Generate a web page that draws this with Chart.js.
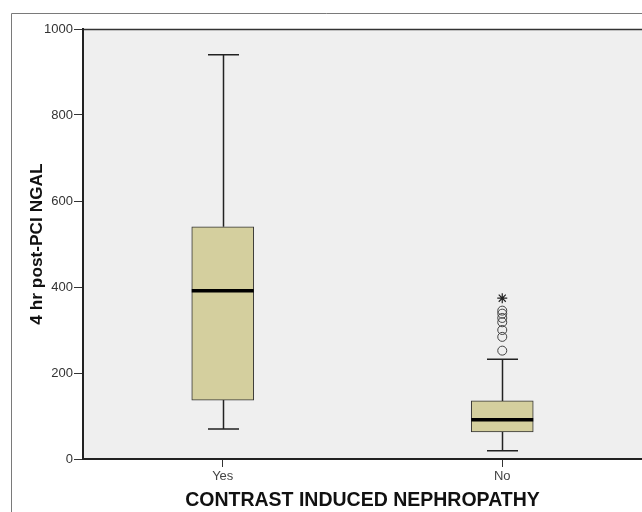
<!DOCTYPE html>
<html lang="en">
<head>
  <meta charset="UTF-8">
  <title>4 hr post-PCI NGAL</title>
  <script src="https://cdn.jsdelivr.net/npm/chart.js"></script>
  <style>
    body { margin: 0; background: #fff; }
    canvas { display: block; }
  </style>
</head>
<body>
  <canvas id="boxChart" width="642" height="512"></canvas>

  <script>
    // box plot values
    const categories = ["Yes", "No"];
    const whiskerLow = [70, 19];
    const quartile1 = [137, 63];
    const medians = [391, 91];
    const quartile3 = [540, 135];
    const whiskerHigh = [940, 232];
    // outliers, all in the "No" group
    const outlierCircles = [252, 284, 300, 318, 328, 338, 345];
    const outlierStars = [374];
    const yTicks = [0, 200, 400, 600, 800, 1000];

    const FONT = "'Liberation Sans', Arial, sans-serif";

    // background panel + outer frame
    const panelPlugin = {
      id: "panel",
      beforeDraw(chart) {
        const { ctx, chartArea: a, width, height } = chart;
        ctx.save();
        ctx.strokeStyle = "#7a7a7a";
        ctx.lineWidth = 1;
        ctx.beginPath();
        ctx.moveTo(11.5, height);
        ctx.lineTo(11.5, 13.5);
        ctx.lineTo(width, 13.5);
        ctx.stroke();
        ctx.fillStyle = "#efefef";
        ctx.fillRect(a.left, a.top, width - a.left, a.bottom - a.top);
        ctx.strokeStyle = "#333";
        ctx.lineWidth = 1.5;
        ctx.beginPath();
        ctx.moveTo(a.left, a.top + 0.5);
        ctx.lineTo(width, a.top + 0.5);
        ctx.stroke();
        ctx.restore();
      }
    };

    // whiskers and median lines, placed with the chart's scales
    const boxPartsPlugin = {
      id: "boxParts",
      beforeDatasetsDraw(chart) {
        const { ctx } = chart;
        const y = chart.scales.y;
        const bars = chart.getDatasetMeta(0).data;
        ctx.save();
        ctx.strokeStyle = "#222";
        ctx.lineWidth = 1.5;
        bars.forEach((bar, i) => {
          const x = Math.round(bar.x) + 0.5;
          const half = bar.width / 4;
          const lo = y.getPixelForValue(whiskerLow[i]);
          const hi = y.getPixelForValue(whiskerHigh[i]);
          ctx.beginPath();
          ctx.moveTo(x, lo);
          ctx.lineTo(x, y.getPixelForValue(quartile1[i]));
          ctx.moveTo(x, hi);
          ctx.lineTo(x, y.getPixelForValue(quartile3[i]));
          ctx.moveTo(x - half, lo);
          ctx.lineTo(x + half, lo);
          ctx.moveTo(x - half, hi);
          ctx.lineTo(x + half, hi);
          ctx.stroke();
        });
        ctx.restore();
      },
      afterDatasetsDraw(chart) {
        const { ctx } = chart;
        const y = chart.scales.y;
        const bars = chart.getDatasetMeta(0).data;
        ctx.save();
        ctx.strokeStyle = "#000";
        ctx.lineWidth = 3.5;
        bars.forEach((bar, i) => {
          const my = y.getPixelForValue(medians[i]);
          ctx.beginPath();
          ctx.moveTo(bar.x - bar.width / 2, my);
          ctx.lineTo(bar.x + bar.width / 2, my);
          ctx.stroke();
        });
        ctx.restore();
      }
    };

    new Chart(document.getElementById("boxChart"), {
      type: "bar",
      data: {
        labels: categories,
        datasets: [
          {
            label: "box",
            data: categories.map((c, i) => [quartile1[i], quartile3[i]]),
            backgroundColor: "#d4cf9e",
            borderColor: "#333",
            borderWidth: 1,
            borderSkipped: false,
            barThickness: 62
          },
          {
            type: "line",
            label: "outliers",
            data: outlierCircles.map(v => ({ x: "No", y: v })),
            showLine: false,
            pointStyle: "circle",
            pointRadius: 4.5,
            pointBorderWidth: 1,
            pointBorderColor: "#444",
            pointBackgroundColor: "rgba(0,0,0,0)"
          },
          {
            type: "line",
            label: "extremes",
            data: outlierStars.map(v => ({ x: "No", y: v })),
            showLine: false,
            pointStyle: "star",
            pointRadius: 5,
            pointBorderWidth: 1.2,
            pointBorderColor: "#222"
          }
        ]
      },
      options: {
        responsive: false,
        animation: false,
        layout: { autoPadding: false, padding: { top: 29, right: 0, bottom: 0, left: 0 } },
        plugins: { legend: { display: false }, tooltip: { enabled: false } },
        scales: {
          x: {
            offset: true,
            afterFit(scale) { scale.height = 53; },
            grid: { drawOnChartArea: false, tickLength: 8, color: "#333", offset: false },
            border: { color: "#222", width: 2 },
            ticks: { color: "#444", padding: 2, font: { family: FONT, size: 13 } },
            title: {
              display: true,
              text: "CONTRAST INDUCED NEPHROPATHY",
              color: "#111",
              padding: { top: 0, bottom: 0 },
              font: { family: FONT, size: 19.5, weight: "bold" }
            }
          },
          y: {
            min: 0,
            max: 1000,
            afterFit(scale) { scale.width = 83; },
            afterBuildTicks(scale) { scale.ticks = yTicks.map(v => ({ value: v })); },
            grid: { drawOnChartArea: false, tickLength: 9, color: "#333" },
            border: { color: "#222", width: 2 },
            ticks: {
              color: "#333",
              padding: 1,
              font: { family: FONT, size: 13 },
              callback: v => String(v)
            },
            title: {
              display: true,
              text: "4 hr post-PCI NGAL",
              color: "#111",
              padding: { top: 26.5, bottom: 0 },
              font: { family: FONT, size: 17.3, weight: "bold" }
            }
          }
        }
      },
      plugins: [panelPlugin, boxPartsPlugin]
    });
  </script>
</body>
</html>
